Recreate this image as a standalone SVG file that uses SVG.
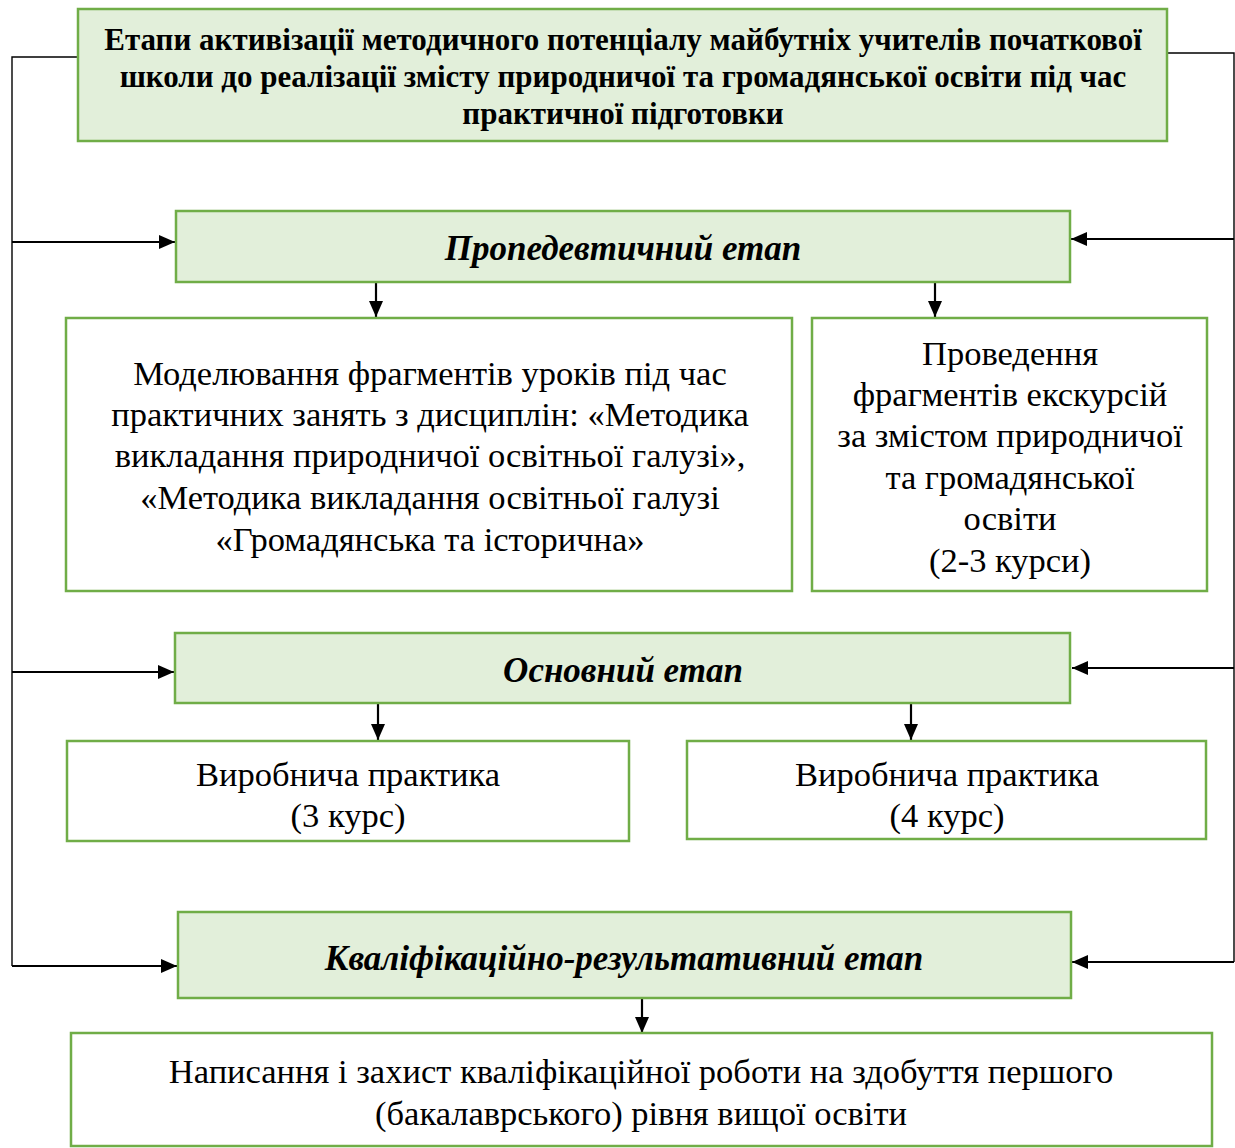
<svg xmlns="http://www.w3.org/2000/svg" width="1235" height="1148" viewBox="0 0 1235 1148">
<defs>
<marker id="ah" markerWidth="16" markerHeight="14" refX="16" refY="7" orient="auto" markerUnits="userSpaceOnUse" viewBox="0 0 16 14">
<path d="M0,0 L16,7 L0,14 Z" fill="#000"/>
</marker>
<style>
.g{fill:#e2efda;stroke:#70ad47;stroke-width:2.5}
.w{fill:#fff;stroke:#70ad47;stroke-width:2.5}
.t{font-family:"Liberation Serif","Times New Roman",serif;fill:#000;text-anchor:middle}
.title{font-size:31px;font-weight:bold}
.head{font-size:35px;font-weight:bold;font-style:italic}
.body{font-size:34.5px}
.thin{fill:none;stroke:#000;stroke-width:1.4}
.arr{fill:none;stroke:#000;stroke-width:2.2;marker-end:url(#ah)}
</style>
</defs>
<rect width="1235" height="1148" fill="#fff"/>
<g id="connectors">
<polyline class="thin" points="78,57 12,57 12,966"/>
<polyline class="thin" points="1167,53 1234,53 1234,962"/>
<line class="arr" x1="12" y1="242" x2="175" y2="242"/>
<line class="arr" x1="12" y1="672" x2="174" y2="672"/>
<line class="arr" x1="12" y1="966" x2="177" y2="966"/>
<line class="arr" x1="1234" y1="239" x2="1071" y2="239"/>
<line class="arr" x1="1234" y1="668" x2="1072" y2="668"/>
<line class="arr" x1="1234" y1="962" x2="1072" y2="962"/>
<line class="arr" x1="376" y1="283" x2="376" y2="317"/>
<line class="arr" x1="935" y1="283" x2="935" y2="317"/>
<line class="arr" x1="378" y1="704" x2="378" y2="740"/>
<line class="arr" x1="911" y1="704" x2="911" y2="740"/>
<line class="arr" x1="642" y1="999" x2="642" y2="1033"/>
</g>
<g id="title">
<rect class="g" x="78" y="9" width="1089" height="132"/>
<text class="t title" x="623" y="50">Етапи активізації методичного потенціалу майбутніх учителів початкової</text>
<text class="t title" x="623" y="87">школи до реалізації змісту природничої та громадянської освіти під час</text>
<text class="t title" x="623" y="124">практичної підготовки</text>
</g>
<g id="stage1">
<rect class="g" x="176" y="211" width="894" height="71"/>
<text class="t head" x="623" y="260">Пропедевтичний етап</text>
</g>
<g id="modeling">
<rect class="w" x="66" y="318" width="726" height="273"/>
<text class="t body" x="430" y="385">Моделювання фрагментів уроків під час</text>
<text class="t body" x="430" y="426">практичних занять з дисциплін: «Методика</text>
<text class="t body" x="430" y="467">викладання природничої освітньої галузі»,</text>
<text class="t body" x="430" y="509">«Методика викладання освітньої галузі</text>
<text class="t body" x="430" y="551">«Громадянська та історична»</text>
</g>
<g id="excursions">
<rect class="w" x="812" y="318" width="395" height="273"/>
<text class="t body" x="1010" y="365">Проведення</text>
<text class="t body" x="1010" y="406">фрагментів екскурсій</text>
<text class="t body" x="1010" y="447">за змістом природничої</text>
<text class="t body" x="1010" y="489">та громадянської</text>
<text class="t body" x="1010" y="530">освіти</text>
<text class="t body" x="1010" y="572">(2-3 курси)</text>
</g>
<g id="stage2">
<rect class="g" x="175" y="633" width="895" height="70"/>
<text class="t head" x="623" y="682">Основний етап</text>
</g>
<g id="practice3">
<rect class="w" x="67" y="741" width="562" height="100"/>
<text class="t body" x="348" y="786">Виробнича практика</text>
<text class="t body" x="348" y="827">(3 курс)</text>
</g>
<g id="practice4">
<rect class="w" x="687" y="741" width="519" height="98"/>
<text class="t body" x="947" y="786">Виробнича практика</text>
<text class="t body" x="947" y="827">(4 курс)</text>
</g>
<g id="stage3">
<rect class="g" x="178" y="912" width="893" height="86"/>
<text class="t head" x="624" y="970">Кваліфікаційно-результативний етап</text>
</g>
<g id="thesis">
<rect class="w" x="71" y="1033" width="1141" height="113"/>
<text class="t body" x="641" y="1083">Написання і захист кваліфікаційної роботи на здобуття першого</text>
<text class="t body" x="641" y="1125">(бакалаврського) рівня вищої освіти</text>
</g>
</svg>
